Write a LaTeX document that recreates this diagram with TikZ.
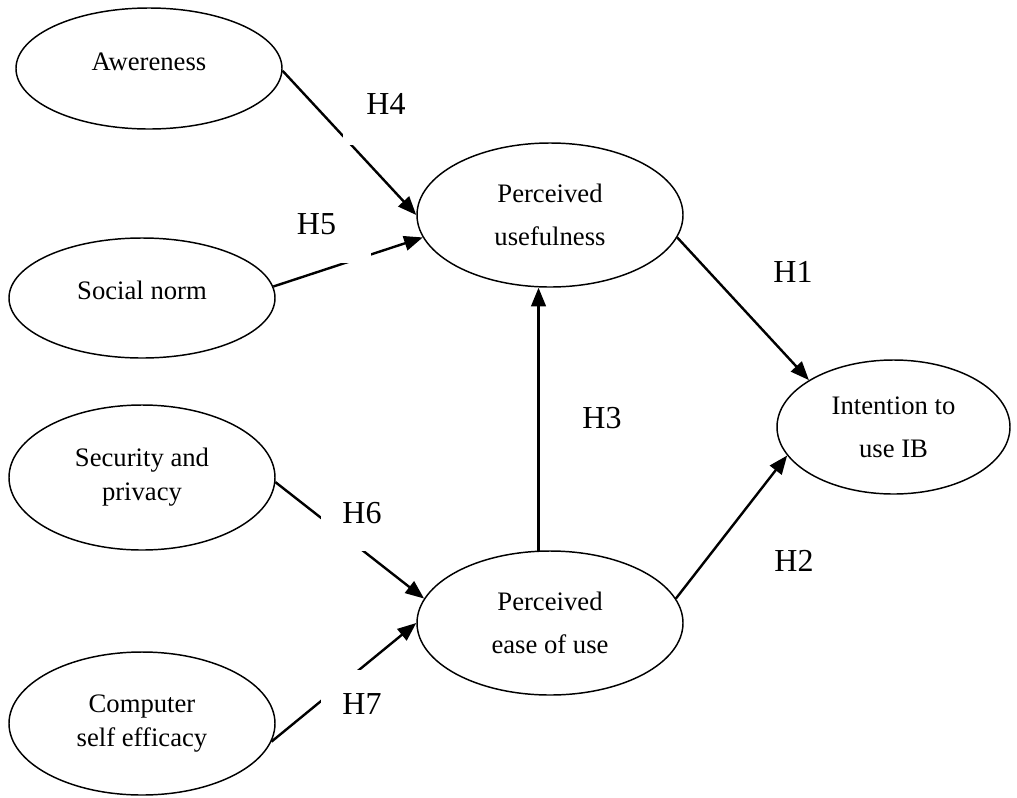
\documentclass[tikz,border=0pt]{standalone}
\usepackage{fontspec}
\setmainfont{Liberation Serif}
\usetikzlibrary{shapes.geometric,arrows.meta}

\begin{document}
\begin{tikzpicture}[x=0.75pt,y=-0.75pt,
  construct/.style={draw=black,line width=1.1pt,ellipse,inner sep=0pt,minimum width=199.5pt,align=center,font=\fontsize{20}{25.5}\selectfont},
  wide/.style={font=\fontsize{20}{32}\selectfont},
  hyparrow/.style={draw=black,line width=1.8pt,-{Triangle[length=14pt,width=11pt]}},
  hyp/.style={fill=white,inner sep=0pt,font=\fontsize{24}{28}\selectfont}]
\useasboundingbox (0,0) rectangle (1017,797);
\node[construct,text depth=10.5pt,minimum height=90.75pt] (aw) at (149,68.5) {Awereness};
\node[construct,text depth=11pt,minimum height=90pt] (sn) at (142,298) {Social norm};
\node[construct,minimum height=108.75pt] (sp) at (142,477.5) {Security and\\privacy};
\node[construct,minimum height=107.25pt] (cs) at (142,723.5) {Computer\\self efficacy};
\node[construct,wide,minimum height=108pt] (pu) at (550,215) {Perceived\\usefulness};
\node[construct,wide,minimum height=108pt] (pe) at (550,623) {Perceived\\ease of use};
\node[construct,wide,minimum width=174.75pt,minimum height=100.5pt] (ib) at (893.5,427) {Intention to\\use IB};
\draw[hyparrow] (aw.-1) -- (pu.180);
\draw[hyparrow] (sn.5) -- (pu.190);
\draw[hyparrow] (sp.-2) -- (pe.169);
\draw[hyparrow] (cs.-8) -- (pe.180);
\draw[hyparrow] (pe.99) -- (pe.99 |- pu.south);
\draw[hyparrow] (pu.-10) -- (ib.151);
\draw[hyparrow] (pe.11) -- (ib.195);
\node[hyp,minimum width=64.5pt,minimum height=61.5pt] (h4) at (386,104) {H4};
\node[hyp,minimum width=81.75pt,minimum height=58.5pt] (h5) at (316.5,224) {H5};
\node[hyp,minimum width=61.5pt,minimum height=57pt] (h6) at (362,513) {H6};
\node[hyp,minimum width=61.5pt,minimum height=51pt] (h7) at (362,704) {H7};
\node[hyp] (h1) at (793,272) {H1};
\node[hyp] (h3) at (602,418) {H3};
\node[hyp] (h2) at (794,561) {H2};
\end{tikzpicture}
\end{document}
